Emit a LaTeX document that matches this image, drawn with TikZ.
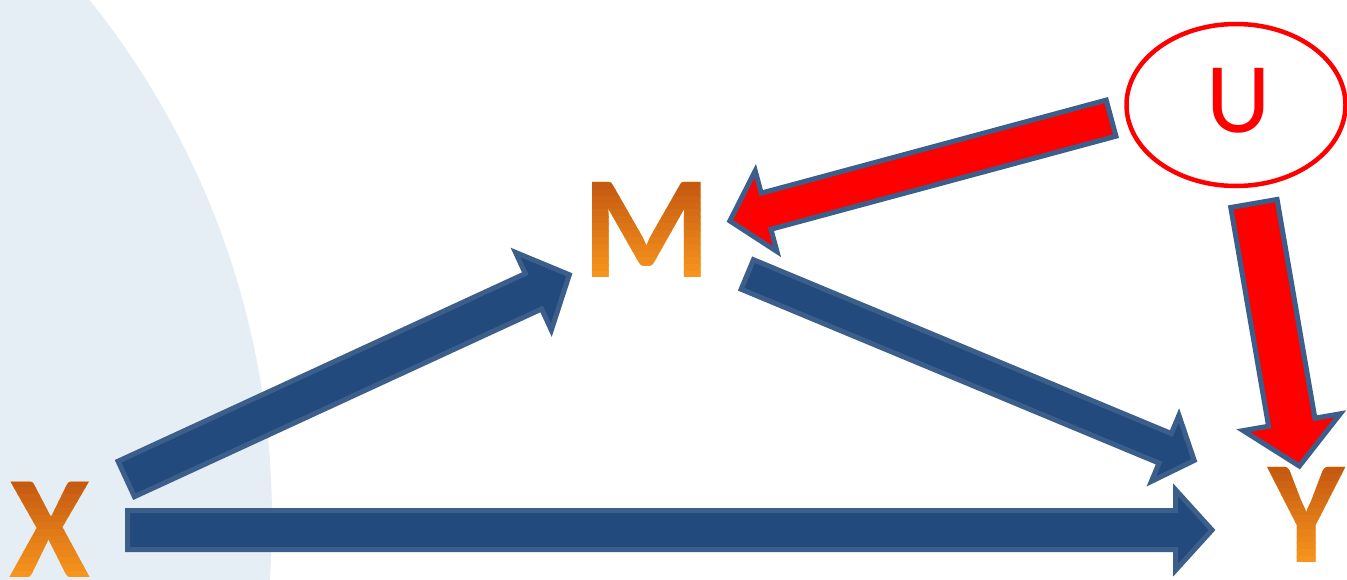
\documentclass[tikz,border=0pt]{standalone}
\usepackage{fontspec}
\setmainfont{Carlito}
\usetikzlibrary{calc,shapes.geometric}
\definecolor{abFill}{HTML}{224A7C}
\definecolor{abLine}{HTML}{3C5E8B}
\definecolor{orTop}{HTML}{C55A11}
\definecolor{orBot}{HTML}{F7941D}
\definecolor{wmBlue}{HTML}{E5EEF5}
\tikzset{
  blueArrow/.style={fill=abFill, draw=abLine, line width=5pt, line join=miter},
  redArrow/.style={fill=red, draw=abLine, line width=5pt, line join=miter},
  bigLetter/.style={font={\fontsize{147}{150}\selectfont\bfseries}, anchor=base, inner sep=0pt},
}
\newcommand\blockarrow[6]{%
  \path let \p1=(#2), \p2=(#3), \n1={atan2(\y2-\y1,\x2-\x1)}, \n2={veclen(\x2-\x1,\y2-\y1)} in
    \pgfextra{\xdef\baAng{\n1}\xdef\baLen{\n2}\xdef\baX{\x1}\xdef\baY{\y1}};
  \begin{scope}[shift={(\baX,\baY)}, rotate=\baAng]
    \pgfmathsetmacro\baS{#4-2.5}
    \pgfmathsetmacro\baH{#5-2.75}
    \pgfmathsetmacro\baB{\baLen-#6+2.5}
    \pgfmathsetmacro\baT{\baLen-4}
    \draw[#1] (2.5,-\baS) -- (\baB,-\baS) -- (\baB,-\baH) -- (\baT,0) -- (\baB,\baH) -- (\baB,\baS) -- (2.5,\baS) -- cycle;
  \end{scope}}
\newcommand\gradletter[5]{% name, x, baseline y, top y, letter
  \node[bigLetter, text=orBot] (#1) at (#2,#3) {#5};
  \foreach \i in {0,...,13}{%
    \pgfmathsetmacro\ya{#4-2+(#3-#4+4)*\i/14-0.5}
    \pgfmathsetmacro\yb{#4-2+(#3-#4+4)*(\i+1)/14}
    \pgfmathsetmacro\pc{100-100*\i/13}
    \begin{scope}
      \clip (0,\ya) rectangle (1347,\yb);
      \node[bigLetter, text=orTop!\pc!orBot] (#1-\i) at (#2,#3) {#5};
    \end{scope}}}
\begin{document}
\begin{tikzpicture}[x=1pt,y=-1pt]
\useasboundingbox (0,0) rectangle (1347,579);
\fill[white] (0,0) rectangle (1347,579);
\begin{scope}
  \clip (0,0) rectangle (1347,579);
  \fill[wmBlue] (-560,520) circle (832);
\end{scope}

% letters
\gradletter{X}{50}{577}{483}{X}
\gradletter{M}{646.5}{277}{185}{M}
\gradletter{Y}{1306.5}{562}{470}{Y}
\node[draw=red, line width=4.5pt, ellipse, minimum width=219pt, minimum height=162pt, inner sep=0pt] (Uring) at (1236,105) {};
\node[text=red, font={\fontsize{100}{104}\selectfont}, anchor=base, inner sep=0pt] (U) at (1239,132) {U};

% connector end points
\coordinate (xyT) at (125,530);   \coordinate (xyH) at (1216,530);
\coordinate (xmT) at (124,480);   \coordinate (xmH) at (573,273);
\coordinate (myT) at (745,273.5); \coordinate (myH) at (1198,462);
\coordinate (umT) at (1113.5,117.5); \coordinate (umH) at (726,222);
\coordinate (uyT) at (1253.5,201); \coordinate (uyH) at (1300,470);

\blockarrow{blueArrow}{xyT}{xyH}{22}{43}{43}
\blockarrow{blueArrow}{xmT}{xmH}{22}{45.5}{46}
\blockarrow{blueArrow}{myT}{myH}{18.5}{38.5}{38}
\blockarrow{redArrow}{umT}{umH}{21.2}{44.5}{44}
\blockarrow{redArrow}{uyT}{uyH}{26}{52}{51}
\end{tikzpicture}
\end{document}
